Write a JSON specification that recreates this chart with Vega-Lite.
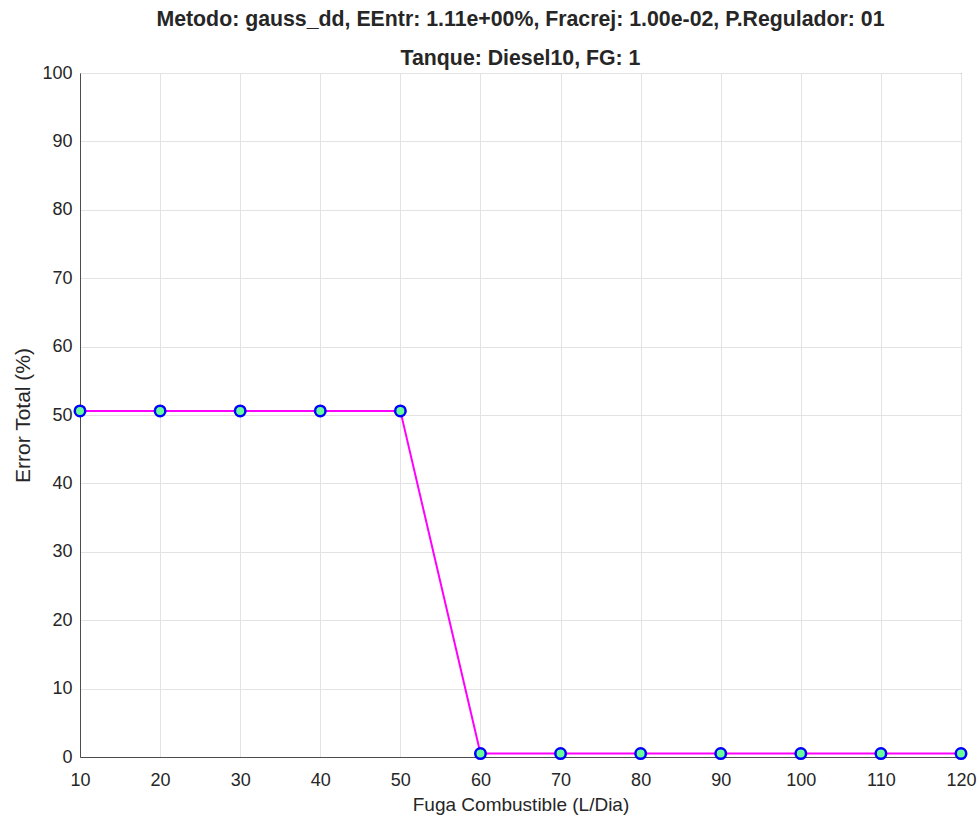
{
  "$schema": "https://vega.github.io/schema/vega-lite/v6.json",
  "autosize": {"type": "none"},
  "padding": {"left": 80, "top": 73, "right": 18, "bottom": 68},
  "width": 881,
  "height": 684,
  "background": "white",
  "config": {
    "font": "Liberation Sans",
    "view": {"stroke": "#4d4d4d", "strokeWidth": 1}
  },
  "title": {
    "text": ["Metodo: gauss_dd, EEntr: 1.11e+00%, Fracrej: 1.00e-02, P.Regulador: 01", "Tanque: Diesel10, FG: 1"],
    "fontSize": 21.3,
    "fontWeight": "bold",
    "color": "#262626",
    "lineHeight": 39,
    "anchor": "middle",
    "frame": "group",
    "offset": -5
  },
  "data": {
    "values": [
      {"fuga": 10, "error": 50.6},
      {"fuga": 20, "error": 50.6},
      {"fuga": 30, "error": 50.6},
      {"fuga": 40, "error": 50.6},
      {"fuga": 50, "error": 50.6},
      {"fuga": 60, "error": 0.5},
      {"fuga": 70, "error": 0.5},
      {"fuga": 80, "error": 0.5},
      {"fuga": 90, "error": 0.5},
      {"fuga": 100, "error": 0.5},
      {"fuga": 110, "error": 0.5},
      {"fuga": 120, "error": 0.5}
    ]
  },
  "encoding": {
    "x": {
      "field": "fuga", "type": "quantitative",
      "scale": {"domain": [10, 120], "nice": false, "zero": false},
      "axis": {
        "title": "Fuga Combustible (L/Dia)",
        "values": [10, 20, 30, 40, 50, 60, 70, 80, 90, 100, 110, 120],
        "grid": true, "gridColor": "#e3e3e3", "gridWidth": 1,
        "domainColor": "#4d4d4d", "ticks": false, "labelFlush": false,
        "labelFontSize": 18, "labelColor": "#262626", "labelPadding": 14,
        "titleFontSize": 19, "titleFontWeight": "normal", "titleColor": "#262626", "titlePadding": 6
      }
    },
    "y": {
      "field": "error", "type": "quantitative",
      "scale": {"domain": [0, 100], "nice": false},
      "axis": {
        "title": "Error Total (%)",
        "values": [0, 10, 20, 30, 40, 50, 60, 70, 80, 90, 100],
        "grid": true, "gridColor": "#e3e3e3", "gridWidth": 1,
        "domainColor": "#4d4d4d", "ticks": false, "labelFlush": false,
        "labelFontSize": 18, "labelColor": "#262626", "labelPadding": 8,
        "titleFontSize": 21, "titleFontWeight": "normal", "titleColor": "#262626", "titlePadding": 8
      }
    }
  },
  "layer": [
    {"mark": {"type": "line", "color": "#FF00FF", "strokeWidth": 2}},
    {"mark": {"type": "point", "filled": true, "fill": "#66FF99", "stroke": "#0000FF", "strokeWidth": 2.5, "size": 110, "opacity": 1}}
  ]
}
